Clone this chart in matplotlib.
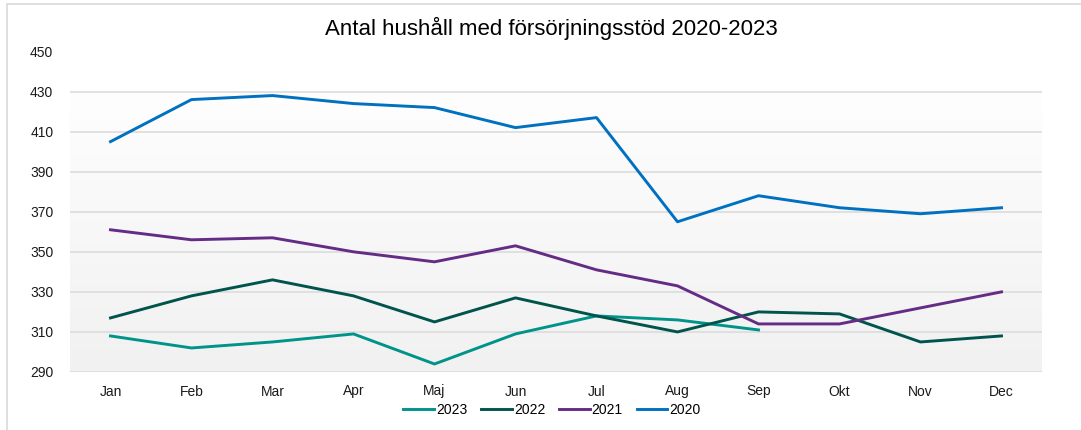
import matplotlib
matplotlib.use("Agg")
import matplotlib.pyplot as plt
import numpy as np
from matplotlib.patches import Rectangle

MONTHS = ["Jan", "Feb", "Mar", "Apr", "Maj", "Jun", "Jul", "Aug", "Sep", "Okt", "Nov", "Dec"]

Y2023 = [308, 302, 305, 309, 294, 309, 318, 316, 311]
Y2022 = [317, 328, 336, 328, 315, 327, 318, 310, 320, 319, 305, 308]
Y2021 = [361, 356, 357, 350, 345, 353, 341, 333, 314, 314, 322, 330]
Y2020 = [405, 426, 428, 424, 422, 412, 417, 365, 378, 372, 369, 372]

SERIES = [
    ("2023", Y2023, "#00938A"),
    ("2022", Y2022, "#00544C"),
    ("2021", Y2021, "#652C86"),
    ("2020", Y2020, "#0070C0"),
]

plt.rcParams["font.family"] = ["Liberation Sans", "DejaVu Sans"]

fig = plt.figure(figsize=(10.81, 4.30), dpi=100)
ax = fig.add_axes([70 / 1081, 1 - 372 / 430, 972 / 1081, 320.5 / 430])

# outer light border of the chart box
fig.patches.append(Rectangle((7 / 1081, -0.1), 1.2, 1 - 4 / 430 + 0.1,
                             transform=fig.transFigure, fill=False,
                             edgecolor="#d9d9d9", linewidth=1.2))

# background: white above 430, soft grey gradient below
grad = np.linspace(0, 1, 256).reshape(-1, 1)
cmap = matplotlib.colors.LinearSegmentedColormap.from_list("bg", ["#f1f1f1", "#fefefe"])
ax.imshow(grad, aspect="auto", cmap=cmap, origin="lower",
          extent=(-0.5, 11.5, 290, 430), zorder=0)

for y in range(290, 451, 20):
    ax.axhline(y, color="#dcdcdc", linewidth=1.2, zorder=1)

x = np.arange(len(MONTHS))
for name, vals, color in SERIES:
    ax.plot(x[:len(vals)], vals, color=color, linewidth=2.1, label=name, zorder=3)

ax.set_xlim(-0.5, 11.5)
ax.set_ylim(290, 450)
ax.set_yticks(range(290, 451, 20))
ax.set_xticks(x)
ax.set_xticklabels(MONTHS)
ax.tick_params(length=0, labelsize=10, colors="#1a1a1a")
ax.tick_params(axis="y", pad=12)
ax.tick_params(axis="x", pad=9)
for s in ax.spines.values():
    s.set_visible(False)

fig.text(551.5 / 1081, 1 - 28 / 430, "Antal hushåll med försörjningsstöd 2020-2023",
         ha="center", va="center", fontsize=16)

fig.legend(loc="center", bbox_to_anchor=(552 / 1081, 1 - 410 / 430), ncol=4,
           frameon=False, fontsize=10, handlelength=2.2, handletextpad=0.15,
           columnspacing=1.0)

fig.savefig("out.png", dpi=100)
